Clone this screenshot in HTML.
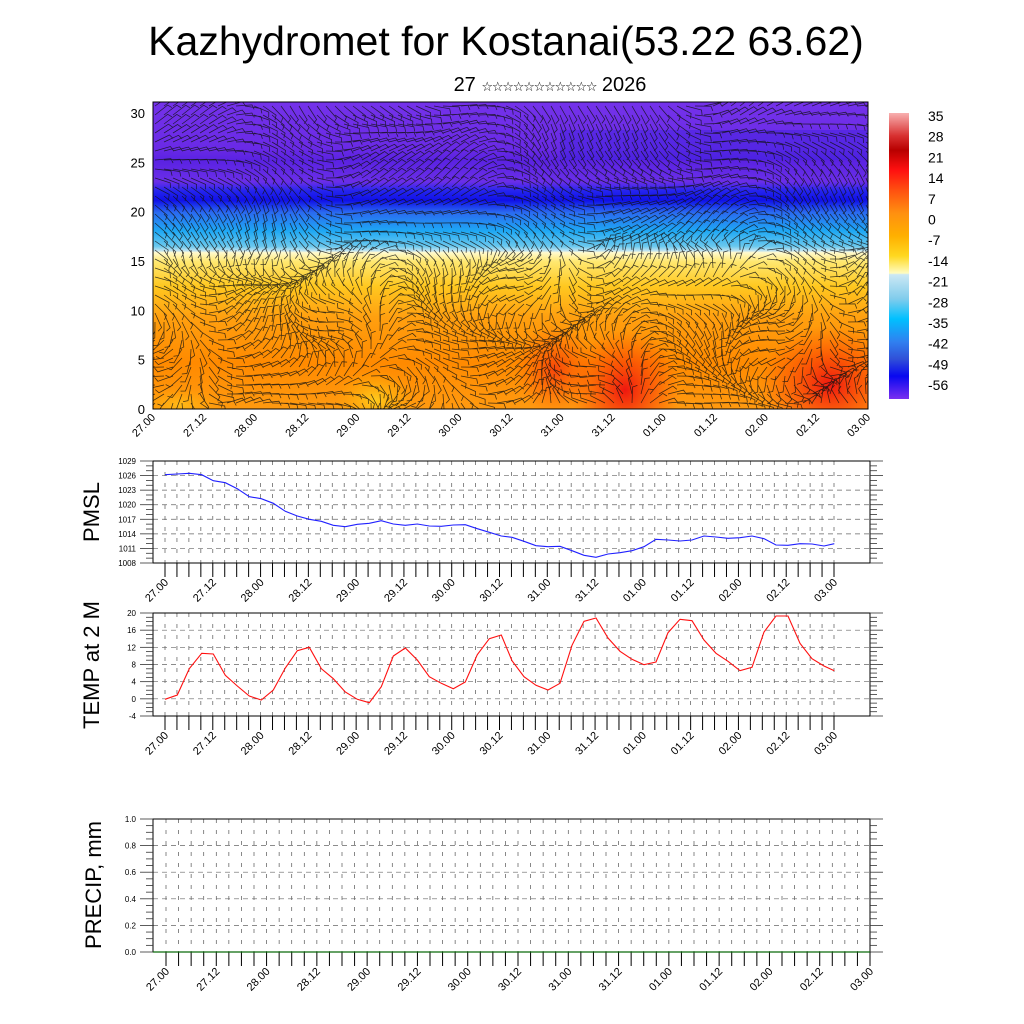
<!DOCTYPE html>
<html><head><meta charset="utf-8"><style>
html,body{margin:0;padding:0;background:#fff;}
svg{display:block;font-family:"Liberation Sans","DejaVu Sans",sans-serif;}
</style></head><body>
<svg id="s" width="1024" height="1024" viewBox="0 0 1024 1024" xmlns="http://www.w3.org/2000/svg">
<defs>
<linearGradient id="bg" x1="0" y1="0" x2="0" y2="1" gradientUnits="userSpaceOnUse" gradientTransform="translate(0,102) scale(1,307)">
<stop offset="0" stop-color="#7432ea"/>
<stop offset="0.15" stop-color="#6a2ae6"/>
<stop offset="0.19" stop-color="#5a22e2"/>
<stop offset="0.26" stop-color="#6a2ee8"/>
<stop offset="0.29" stop-color="#2424ee"/>
<stop offset="0.32" stop-color="#1010e8"/>
<stop offset="0.36" stop-color="#2a6af0"/>
<stop offset="0.42" stop-color="#1ea8f4"/>
<stop offset="0.47" stop-color="#6ac8ee"/>
<stop offset="0.485" stop-color="#c4e4f0"/>
<stop offset="0.49" stop-color="#fffad0"/>
<stop offset="0.52" stop-color="#ffe870"/>
<stop offset="0.6" stop-color="#ffc820"/>
<stop offset="0.7" stop-color="#ffa010"/>
<stop offset="0.85" stop-color="#ff8a00"/>
<stop offset="1" stop-color="#ff9a10"/>
</linearGradient>
<radialGradient id="red1" cx="0.5" cy="0.5" r="0.5"><stop offset="0" stop-color="#ee1010" stop-opacity="0.95"/><stop offset="1" stop-color="#ff4000" stop-opacity="0"/></radialGradient>
<radialGradient id="yel" cx="0.5" cy="0.5" r="0.5"><stop offset="0" stop-color="#ffd020" stop-opacity="0.9"/><stop offset="1" stop-color="#ffb000" stop-opacity="0"/></radialGradient>
<linearGradient id="cb" x1="0" y1="0" x2="0" y2="1">
<stop offset="0" stop-color="#f8b0b0"/>
<stop offset="0.08" stop-color="#d83030"/>
<stop offset="0.13" stop-color="#b80000"/>
<stop offset="0.2" stop-color="#ff1010"/>
<stop offset="0.27" stop-color="#ff5010"/>
<stop offset="0.35" stop-color="#ff9010"/>
<stop offset="0.43" stop-color="#ffb000"/>
<stop offset="0.5" stop-color="#ffd820"/>
<stop offset="0.56" stop-color="#fffcc0"/>
<stop offset="0.565" stop-color="#cce8f4"/>
<stop offset="0.65" stop-color="#80ccec"/>
<stop offset="0.72" stop-color="#00c0ff"/>
<stop offset="0.8" stop-color="#3080f0"/>
<stop offset="0.86" stop-color="#3050d8"/>
<stop offset="0.92" stop-color="#0808f0"/>
<stop offset="1" stop-color="#7a30f0"/>
</linearGradient>
<clipPath id="cp"><rect x="153" y="102" width="715" height="307"/></clipPath>
</defs>
<text x="506" y="55" font-size="41" text-anchor="middle">Kazhydromet for Kostanai(53.22 63.62)</text>
<text x="550" y="91" font-size="20" text-anchor="middle">27 <tspan font-size="13" letter-spacing="-1.2">☆☆☆☆☆☆☆☆☆☆☆</tspan> 2026</text>
<g clip-path="url(#cp)">
<rect x="153" y="102" width="715" height="307" fill="url(#bg)"/>
<rect x="560" y="130" width="308" height="30" fill="#3020e0" opacity="0.35"/>
<ellipse cx="625" cy="390" rx="55" ry="60" fill="url(#red1)"/>
<ellipse cx="830" cy="385" rx="70" ry="60" fill="url(#red1)"/>
<ellipse cx="555" cy="370" rx="40" ry="45" fill="url(#red1)" opacity="0.6"/>
<ellipse cx="375" cy="400" rx="40" ry="30" fill="url(#yel)"/>
<ellipse cx="180" cy="405" rx="40" ry="18" fill="url(#yel)" opacity="0.7"/>
<g id="barbs" stroke="#111" stroke-width="0.75" stroke-opacity="0.8" fill="none"></g>
</g>
<rect x="153" y="102" width="715" height="307" fill="none" stroke="#000" stroke-width="1"/>
<rect x="889" y="113" width="20" height="286" fill="url(#cb)"/>
<g id="cbl" font-size="14"></g>
<g id="g"></g>
<text transform="translate(99,512) rotate(-90)" font-size="22" text-anchor="middle">PMSL</text>
<text transform="translate(99,665) rotate(-90)" font-size="22" text-anchor="middle">TEMP at 2 M</text>
<text transform="translate(101,885) rotate(-90)" font-size="22" text-anchor="middle">PRECIP, mm</text>
<polyline fill="none" stroke="#2020ff" stroke-width="1.1" points="165,474.7 177.3,474 189.3,473.3 201.7,474.7 213.3,480.7 225.3,482.7 237.3,488.7 249.3,496.7 261.3,498.7 273.3,503.3 285.3,511.3 297.3,516 309.3,519.3 321.3,521.3 333.3,525.3 345.3,526.7 357.3,524.3 369.3,523.3 381.3,520.7 393.3,524 405.3,525.3 417.3,524 429.3,526 441.3,526.3 453.3,525 465.3,524.7 477.3,528.7 489.3,532.3 501.3,536 512,537.3 524,541.3 536,545.7 548,546.7 560,546.3 572,550.7 584,555.3 596,557.3 608,554 620,552.7 632,550.7 644,546.7 656,539.3 668,540 680,541 692,540 704,536 716,537 728,538.3 740,537.7 752,536 764,538.7 776,545 788,545.3 800,543.7 812,544 824,546 834.3,543.7"/>
<polyline fill="none" stroke="#ff1010" stroke-width="1.1" points="165,699.3 177.3,695 189.3,668.7 201.7,653.3 213.3,654 225.3,675.3 237.3,686 249.3,696 261.3,700 273.3,690 285.3,668 297.3,650.7 309.3,647.3 321.3,668.7 333.3,678.7 345.3,692 357.3,699.3 369.3,702.7 381.3,686.7 393.3,656 405.3,648 417.3,660 429.3,676.7 441.3,683.3 453.3,688.7 465.3,682 477.3,654.7 489.3,638.7 501.3,635 512,660.7 524,676.7 536,685.3 548,690 560,683.3 572,645.3 584,621.3 596,618 608,638 620,651.3 632,659.3 644,664.7 656,662 668,632.7 680,619.3 692,620.7 704,640 716,653.3 728,661.3 740,670.7 752,667.3 764,632 776,616 788,616 800,643.3 812,658.7 824,666 834.3,670.7"/>
<line x1="153" y1="952" x2="870" y2="952" stroke="#0a6a0a" stroke-width="1.2"/>
</svg>
<script>
var NS="http://www.w3.org/2000/svg",G=document.getElementById("g");
function el(t,a,p){var e=document.createElementNS(NS,t);for(var k in a)e.setAttribute(k,a[k]);(p||G).appendChild(e);return e;}
function txt(x,y,s,fs,anc,tr){var e=el("text",{x:x,y:y,"font-size":fs,"text-anchor":anc||"start"});if(tr)e.setAttribute("transform",tr);e.textContent=s;return e;}
var labs=["27.00","27.12","28.00","28.12","29.00","29.12","30.00","30.12","31.00","31.12","01.00","01.12","02.00","02.12","03.00"];
for(var i=0;i<=6;i++){var y=409-9.87*i*5;txt(145,y+5,String(i*5),13,"end");}
for(var i=0;i<15;i++){var x=153+715/14*i;txt(x+3,418,labs[i],11,"end","rotate(-45 "+(x+3)+" 418)");}
var cv=[35,28,21,14,7,0,-7,-14,-21,-28,-35,-42,-49,-56],C=document.getElementById("cbl");
for(var i=0;i<cv.length;i++){var t=el("text",{x:928,y:121+20.7*i,"font-size":14},C);t.textContent=cv[i];}
function panel(o){
 var L=153,R=870,T=o.T,B=o.B;
 var yv=function(v){return B-(v-o.y0)/(o.y1-o.y0)*(B-T);};
 for(var h=0;h<=168;h+=3){var x=o.x0+o.ph*h;if(x>L+1&&x<R-1)el("line",{x1:x,y1:T,x2:x,y2:B,stroke:"#555","stroke-width":0.7,"stroke-dasharray":"4,7"});}
 for(var v=o.y0+o.st;v<o.y1-1e-6;v+=o.st){var y=yv(v);el("line",{x1:L,y1:y,x2:R,y2:y,stroke:"#666","stroke-width":0.7,"stroke-dasharray":"5,4"});}
 el("rect",{x:L,y:T,width:R-L,height:B-T,fill:"none",stroke:"#000","stroke-width":1});
 for(var v=o.y0;v<=o.y1+1e-6;v+=o.mn){var y=yv(v);var maj=Math.abs((v-o.y0)/o.st-Math.round((v-o.y0)/o.st))<1e-6;
  var len=maj?13:7;el("line",{x1:L-len,y1:y,x2:L,y2:y,stroke:"#333","stroke-width":0.8});el("line",{x1:R,y1:y,x2:R+len,y2:y,stroke:"#333","stroke-width":0.8});
  if(maj)txt(L-17,y+3,o.f(v),8,"end");}
 for(var h=0;h<=168;h+=3){var x=o.x0+o.ph*h;el("line",{x1:x,y1:B,x2:x,y2:B+14,stroke:"#000","stroke-width":1});
  if(h%12==0){var lx=x+4,ly=B+20;txt(lx,ly,labs[h/12],11,"end","rotate(-45 "+lx+" "+ly+")");}}
}
panel({T:461,B:563,x0:165,ph:669/168,y0:1008,y1:1029,st:3,mn:1,f:function(v){return String(Math.round(v));}});
panel({T:613,B:716,x0:165,ph:669/168,y0:-4,y1:20,st:4,mn:1,f:function(v){return String(Math.round(v));}});
panel({T:819,B:952,x0:166,ph:704/168,y0:0,y1:1,st:0.2,mn:0.05,f:function(v){return v.toFixed(1);}});
var Bg=document.getElementById("barbs"),d="";
for(var gx=155;gx<870;gx+=9){for(var gy=106;gy<410;gy+=9){
 var a=Math.sin(gx*0.021+gy*0.013)*1.6+Math.cos(gy*0.037-gx*0.008)*1.2+Math.sin(gx*0.05)*0.5;
 if(gy<250)a=a*0.4+0.25;
 var l=16,dx=Math.cos(a)*l,dy=Math.sin(a)*l;
 var x2=gx+dx,y2=gy+dy;
 var bx=x2+Math.cos(a+1.2)*5,by=y2+Math.sin(a+1.2)*5;
 d+="M"+gx.toFixed(1)+" "+gy.toFixed(1)+"L"+x2.toFixed(1)+" "+y2.toFixed(1)+"L"+bx.toFixed(1)+" "+by.toFixed(1);
}}
el("path",{d:d},Bg);
</script>
</body></html>
